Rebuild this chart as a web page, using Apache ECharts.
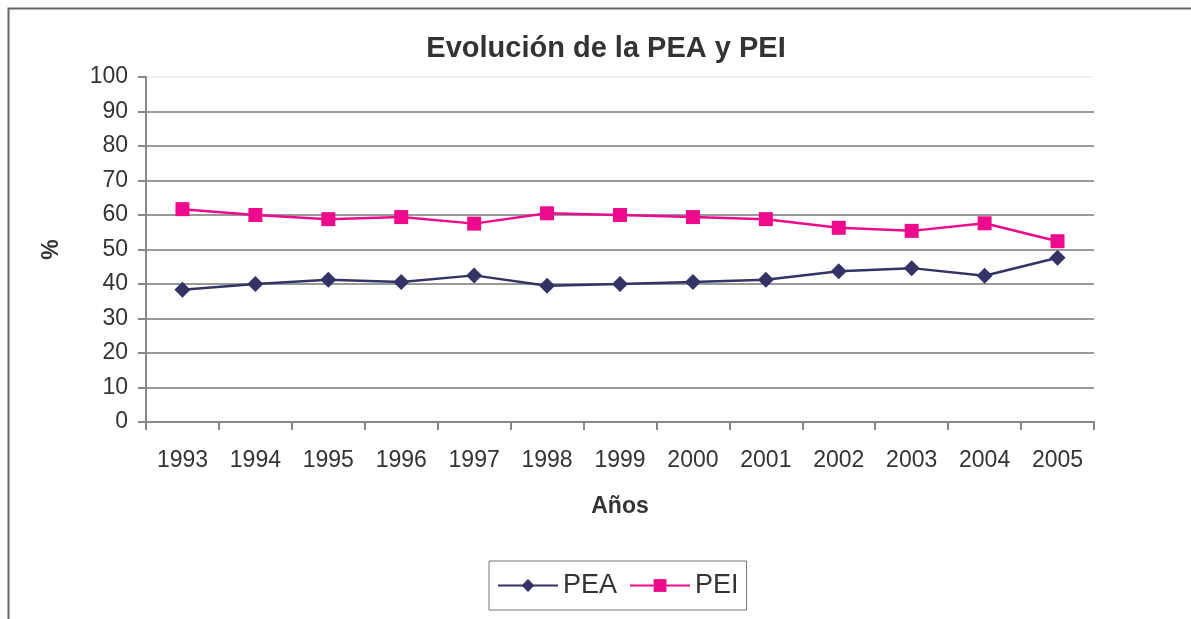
<!DOCTYPE html>
<html>
<head>
<meta charset="utf-8">
<script src="https://cdn.jsdelivr.net/npm/echarts@6/dist/echarts.min.js"></script>
<style>
  html, body { margin: 0; padding: 0; background: #fff; }
  #chart { width: 1191px; height: 619px; }
</style>
</head>
<body>
<div id="chart"></div>
<script>
var years = ['1993', '1994', '1995', '1996', '1997', '1998', '1999', '2000', '2001', '2002', '2003', '2004', '2005'];
var pea = [38.3, 40.0, 41.2, 40.6, 42.5, 39.5, 40.0, 40.6, 41.2, 43.7, 44.6, 42.4, 47.6];
var pei = [61.7, 60.0, 58.8, 59.4, 57.5, 60.5, 60.0, 59.4, 58.8, 56.3, 55.4, 57.6, 52.4];
var yTicks = [0, 10, 20, 30, 40, 50, 60, 70, 80, 90, 100];

var chart = echarts.init(document.getElementById('chart'));
var fontFam = '"Liberation Sans", Arial, sans-serif';

// lineas de la cuadricula; la de 100 casi no se ve en el original
var gridColors = yTicks.map(function (v) { return v === 100 ? '#f2f2f2' : '#999999'; });

var option = {
    backgroundColor: '#ffffff',
    animation: false,
    textStyle: { fontFamily: fontFam },
    title: {
        text: 'Evolución de la PEA y PEI',
        left: 601,
        textAlign: 'center',
        top: 29,
        textStyle: { fontSize: 29, fontWeight: 'bold', color: '#333333', fontFamily: fontFam }
    },
    graphic: [{
        type: 'rect',
        shape: { x: 8.5, y: 8.5, width: 1300, height: 700 },
        style: { fill: 'none', stroke: '#666666', lineWidth: 2 },
        silent: true
    }],
    legend: {
        left: 489,
        top: 561,
        width: 261,
        height: 52,
        padding: [11, 8, 11, 8],
        borderColor: '#777777',
        borderWidth: 1,
        itemWidth: 60,
        itemHeight: 16,
        itemGap: 12,
        textStyle: { fontSize: 27, color: '#333333', fontFamily: fontFam },
        data: ['PEA', 'PEI']
    },
    grid: {
        left: 146,
        right: 1191 - 1094,
        top: 77,
        bottom: 619 - 422,
        containLabel: false
    },
    xAxis: {
        type: 'category',
        data: years,
        boundaryGap: true,
        name: 'Años',
        nameLocation: 'middle',
        nameGap: 73,
        nameTextStyle: { fontSize: 23, fontWeight: 'bold', color: '#333333' },
        axisLine: { lineStyle: { color: '#888888', width: 2 } },
        axisTick: { show: true, length: 8, lineStyle: { color: '#888888', width: 2 } },
        axisLabel: { fontSize: 23, color: '#333333', margin: 27 },
        splitLine: { show: false }
    },
    yAxis: {
        type: 'value',
        min: 0,
        max: 100,
        interval: 10,
        name: '%',
        nameLocation: 'middle',
        nameRotate: 90,
        nameGap: 83,
        nameTextStyle: { fontSize: 23, fontWeight: 'bold', color: '#333333' },
        axisLine: { show: true, lineStyle: { color: '#888888', width: 2 } },
        axisTick: { show: true, length: 8, lineStyle: { color: '#888888', width: 2 } },
        axisLabel: { fontSize: 23, color: '#333333', margin: 18 },
        splitLine: { show: true, lineStyle: { color: gridColors, width: 2 } }
    },
    series: [
        {
            name: 'PEA',
            type: 'line',
            data: pea,
            symbol: 'diamond',
            symbolSize: 16,
            lineStyle: { color: '#333366', width: 2.5 },
            itemStyle: { color: '#333366' }
        },
        {
            name: 'PEI',
            type: 'line',
            data: pei,
            symbol: 'rect',
            symbolSize: 14,
            lineStyle: { color: '#ee0a8c', width: 2.5 },
            itemStyle: { color: '#ee0a8c' }
        }
    ]
};

chart.setOption(option);
</script>
</body>
</html>
